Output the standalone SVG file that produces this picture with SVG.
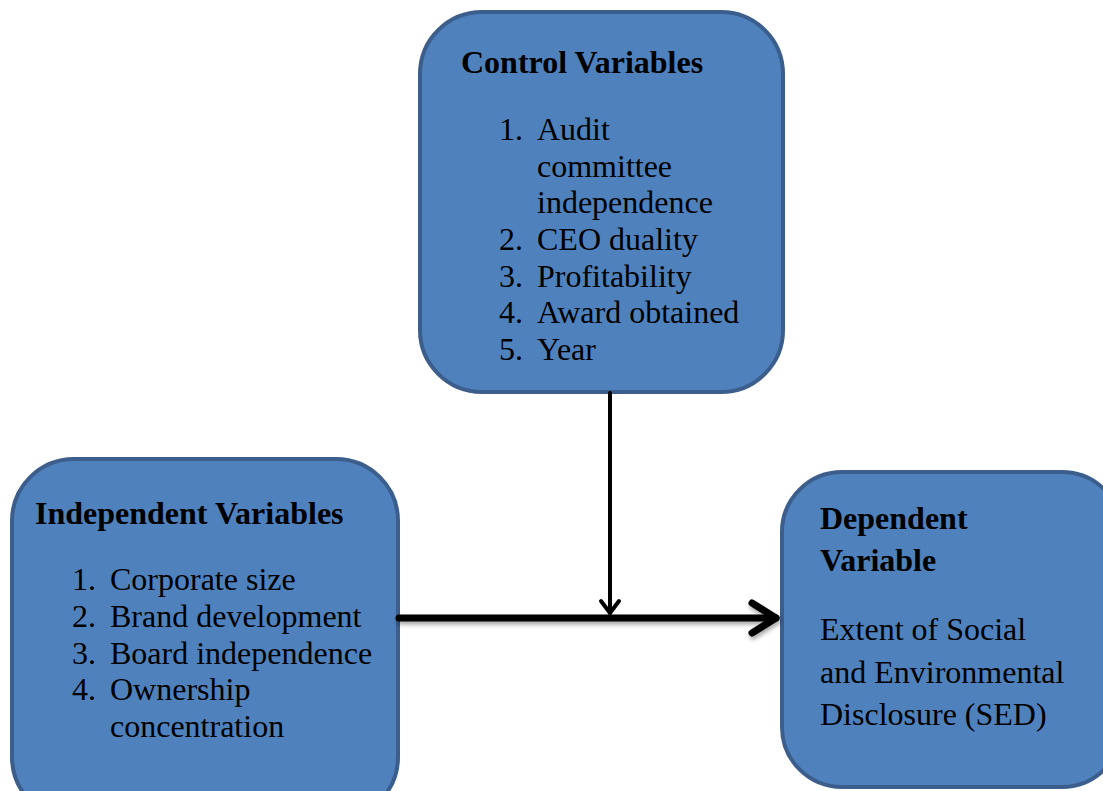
<svg xmlns="http://www.w3.org/2000/svg" width="1103" height="791" viewBox="0 0 1103 791">
<style>
.box{fill:#4f81bd;stroke:#3b5e8c;stroke-width:4}
text{font-family:'Liberation Serif','Times New Roman',serif;font-size:32px;fill:#000}
.t{font-weight:bold}
.ln{fill:none;stroke:#000;stroke-linecap:round;stroke-linejoin:round}
</style>
<defs>
<filter id="sh" x="-10%" y="-50%" width="120%" height="200%">
<feDropShadow dx="1" dy="3" stdDeviation="2" flood-color="#000" flood-opacity="0.35"/>
</filter>
</defs>
<g id="control">
<rect class="box" x="420" y="12" width="363" height="380" rx="62"/>
<text class="t" x="461" y="73">Control Variables</text>
<text x="499" y="140">1.</text><text x="537" y="140">Audit</text>
<text x="537" y="177">committee</text>
<text x="537" y="213">independence</text>
<text x="499" y="250">2.</text><text x="537" y="250">CEO duality</text>
<text x="499" y="287">3.</text><text x="537" y="287">Profitability</text>
<text x="499" y="323">4.</text><text x="537" y="323">Award obtained</text>
<text x="499" y="360">5.</text><text x="537" y="360">Year</text>
</g>
<g id="independent">
<rect class="box" x="12" y="459" width="386" height="360" rx="62"/>
<text class="t" x="35" y="524">Independent Variables</text>
<text x="72" y="590">1.</text><text x="110" y="590">Corporate size</text>
<text x="72" y="627">2.</text><text x="110" y="627">Brand development</text>
<text x="72" y="664">3.</text><text x="110" y="664">Board independence</text>
<text x="72" y="700">4.</text><text x="110" y="700">Ownership</text>
<text x="110" y="737">concentration</text>
</g>
<g id="dependent">
<rect class="box" x="782" y="472" width="340" height="315" rx="60"/>
<text class="t" x="820" y="529">Dependent</text>
<text class="t" x="820" y="571">Variable</text>
<text x="820" y="640">Extent of Social</text>
<text x="820" y="683">and Environmental</text>
<text x="820" y="725">Disclosure (SED)</text>
</g>
<g id="connectors">
<g filter="url(#sh)">
<path class="ln" d="M399 618 H776" stroke-width="7"/>
<path class="ln" d="M752 603 L776 618 L752 633" stroke-width="7"/>
</g>
<path class="ln" d="M610 393 V613" stroke-width="4"/>
<path class="ln" d="M601 601 L610 613 L619 601" stroke-width="4"/>
</g>
</svg>
